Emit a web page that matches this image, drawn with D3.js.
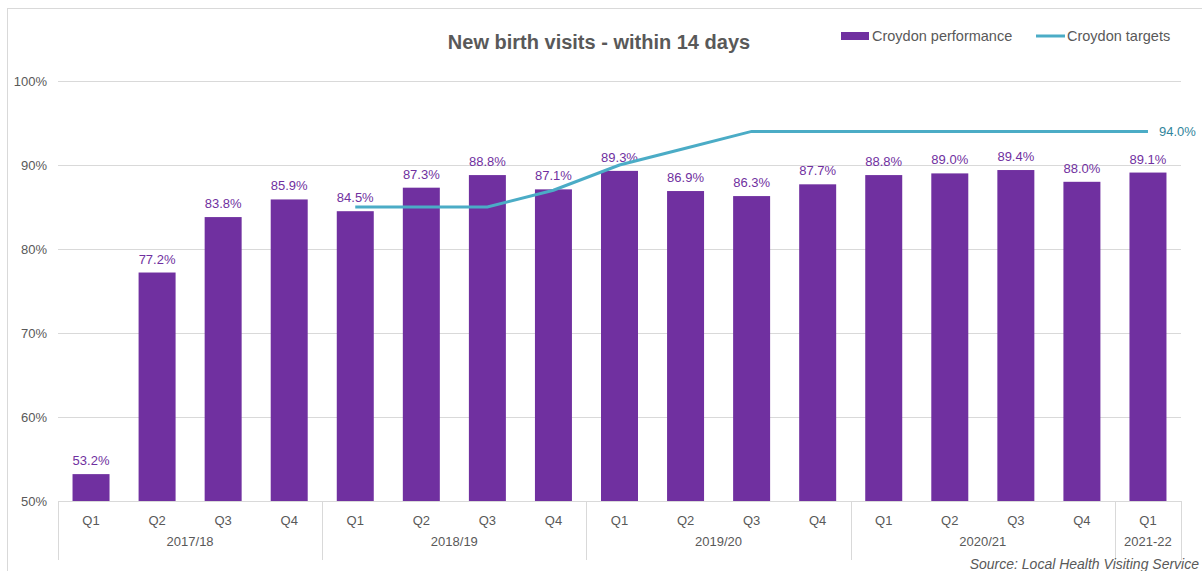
<!DOCTYPE html>
<html lang="en">
<head>
<meta charset="UTF-8"/>
<title>New birth visits - within 14 days</title>
<script src="https://cdn.jsdelivr.net/npm/d3@7"></script>
<style>
  body { margin: 0; background: #fff; }
  svg { font-family: "Liberation Sans", Arial, sans-serif; }
</style>
</head>
<body>
<script>
var w = 1202;
var h = 571;

var quarters = ["Q1", "Q2", "Q3", "Q4", "Q1", "Q2", "Q3", "Q4", "Q1", "Q2", "Q3", "Q4", "Q1", "Q2", "Q3", "Q4", "Q1"];
var years = ["2017/18", "2017/18", "2017/18", "2017/18", "2018/19", "2018/19", "2018/19", "2018/19",
             "2019/20", "2019/20", "2019/20", "2019/20", "2020/21", "2020/21", "2020/21", "2020/21", "2021-22"];
var performance = [53.2, 77.2, 83.8, 85.9, 84.5, 87.3, 88.8, 87.1, 89.3, 86.9, 86.3, 87.7, 88.8, 89.0, 89.4, 88.0, 89.1];
var targets = [null, null, null, null, 85, 85, 85, 87, 90, 92, 94, 94, 94, 94, 94, 94, 94];
var yTicks = [50, 60, 70, 80, 90, 100];

var purple = "#7030A0";
var teal = "#4BACC6";
var grey = "#595959";

var plotLeft = 58, plotRight = 1181, plotTop = 81, plotBottom = 501;

var svg = d3.select("body").append("svg")
  .attr("width", w)
  .attr("height", h);

// chart frame
svg.append("rect")
  .attr("x", 7.5).attr("y", 8.5)
  .attr("width", 1220).attr("height", 600)
  .attr("fill", "none")
  .attr("stroke", "#d9d9d9");

var idx = d3.range(performance.length);

var x = d3.scaleBand()
  .domain(idx)
  .range([plotLeft, plotRight])
  .paddingInner(0.44)
  .paddingOuter(0.22);

var y = d3.scaleLinear()
  .domain([50, 100])
  .range([plotBottom, plotTop]);

// gridlines + y labels
var yAxis = d3.axisLeft(y)
  .tickValues(yTicks)
  .tickSize(-(plotRight - plotLeft))
  .tickPadding(11)
  .tickFormat(function(d) { return d + "%"; });

var gy = svg.append("g")
  .attr("transform", "translate(" + plotLeft + ",0)")
  .call(yAxis);
gy.select(".domain").remove();
gy.selectAll("line").attr("stroke", "#d9d9d9");
gy.selectAll("text")
  .attr("fill", grey)
  .attr("font-size", "13px");

// bars
svg.selectAll("rect.bar")
  .data(performance)
  .enter()
  .append("rect")
  .attr("class", "bar")
  .attr("x", function(d, i) { return x(i); })
  .attr("y", function(d) { return y(d); })
  .attr("width", x.bandwidth())
  .attr("height", function(d) { return plotBottom - y(d); })
  .attr("fill", purple);

// bar labels
svg.selectAll("text.val")
  .data(performance)
  .enter()
  .append("text")
  .attr("class", "val")
  .attr("x", function(d, i) { return x(i) + x.bandwidth() / 2; })
  .attr("y", function(d) { return y(d) - 9; })
  .attr("text-anchor", "middle")
  .attr("font-size", "13px")
  .attr("fill", purple)
  .text(function(d) { return d.toFixed(1) + "%"; });

// target line
var line = d3.line()
  .defined(function(d) { return d != null; })
  .x(function(d, i) { return x(i) + x.bandwidth() / 2; })
  .y(function(d) { return y(d); });

svg.append("path")
  .datum(targets)
  .attr("d", line)
  .attr("fill", "none")
  .attr("stroke", teal)
  .attr("stroke-width", 3);

var lastI = targets.length - 1;
svg.append("text")
  .attr("x", x(lastI) + x.bandwidth() / 2 + 11)
  .attr("y", y(targets[lastI]) + 5)
  .attr("font-size", "13px")
  .attr("fill", "#31859C")
  .text(targets[lastI].toFixed(1) + "%");

// category axis
svg.append("line")
  .attr("x1", plotLeft).attr("x2", plotRight)
  .attr("y1", plotBottom + 0.5).attr("y2", plotBottom + 0.5)
  .attr("stroke", "#d9d9d9");

svg.selectAll("text.q")
  .data(quarters)
  .enter()
  .append("text")
  .attr("class", "q")
  .attr("x", function(d, i) { return x(i) + x.bandwidth() / 2; })
  .attr("y", plotBottom + 24)
  .attr("text-anchor", "middle")
  .attr("font-size", "13px")
  .attr("fill", grey)
  .text(function(d) { return d; });

// year groups
var groups = [];
years.forEach(function(yr, i) {
  var g = groups[groups.length - 1];
  if (!g || g.name !== yr) groups.push({ name: yr, start: i, end: i });
  else g.end = i;
});
var step = x.step();
function edge(i) { return x(i) + x.bandwidth() / 2 - step / 2; }

svg.selectAll("line.sep")
  .data(groups.map(function(g) { return edge(g.start); }).concat([plotRight]))
  .enter()
  .append("line")
  .attr("class", "sep")
  .attr("x1", function(d) { return Math.round(d) + 0.5; })
  .attr("x2", function(d) { return Math.round(d) + 0.5; })
  .attr("y1", plotBottom)
  .attr("y2", plotBottom + 59)
  .attr("stroke", "#d9d9d9");

svg.selectAll("text.yr")
  .data(groups)
  .enter()
  .append("text")
  .attr("class", "yr")
  .attr("x", function(g) { return (edge(g.start) + edge(g.end) + step) / 2; })
  .attr("y", plotBottom + 45)
  .attr("text-anchor", "middle")
  .attr("font-size", "13px")
  .attr("fill", grey)
  .text(function(g) { return g.name; });

// title
svg.append("text")
  .attr("x", 599)
  .attr("y", 49)
  .attr("text-anchor", "middle")
  .attr("font-size", "20px")
  .attr("font-weight", "bold")
  .attr("fill", grey)
  .text("New birth visits - within 14 days");

// legend
svg.append("rect")
  .attr("x", 841).attr("y", 32)
  .attr("width", 28).attr("height", 8)
  .attr("fill", purple);
svg.append("text")
  .attr("x", 872).attr("y", 41)
  .attr("font-size", "14.5px")
  .attr("fill", grey)
  .text("Croydon performance");
svg.append("line")
  .attr("x1", 1036).attr("x2", 1065)
  .attr("y1", 36).attr("y2", 36)
  .attr("stroke", teal)
  .attr("stroke-width", 3);
svg.append("text")
  .attr("x", 1067).attr("y", 41)
  .attr("font-size", "14.5px")
  .attr("fill", grey)
  .text("Croydon targets");

// source
svg.append("text")
  .attr("x", 1199)
  .attr("y", 569)
  .attr("text-anchor", "end")
  .attr("font-size", "14px")
  .attr("font-style", "italic")
  .attr("fill", grey)
  .text("Source: Local Health Visiting Service");
</script>
</body>
</html>
